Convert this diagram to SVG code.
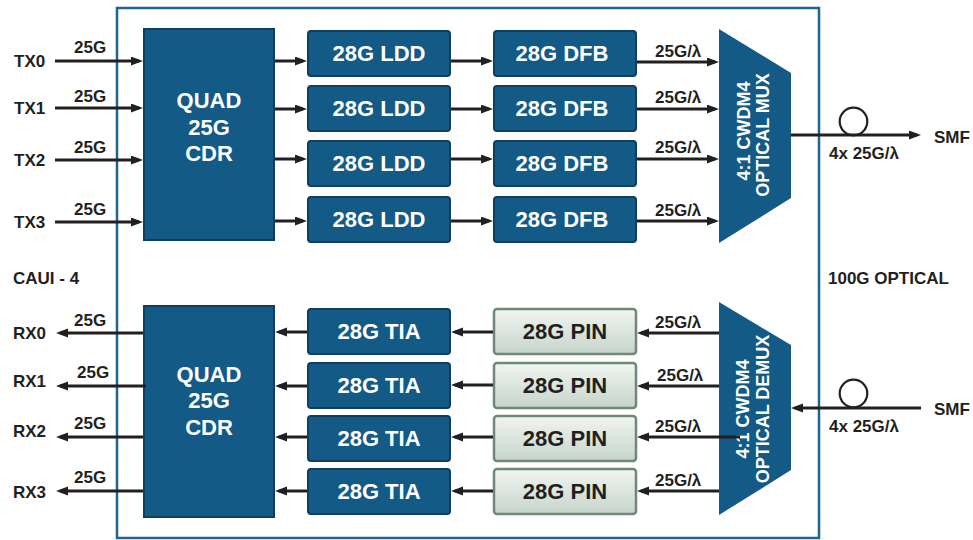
<svg xmlns="http://www.w3.org/2000/svg" width="973" height="540" viewBox="0 0 973 540">
<style>
.blk{fill:#135a87;stroke:#0d3f60;stroke-width:2}
.pin{fill:url(#pg);stroke:#6f8979;stroke-width:2.5}
.bt{font-family:"Liberation Sans",Arial,sans-serif;font-weight:bold;font-size:22px;fill:#fff;text-anchor:middle}
.pt{font-family:"Liberation Sans",Arial,sans-serif;font-weight:bold;font-size:22px;fill:#231f20;text-anchor:middle}
.mt{font-family:"Liberation Sans",Arial,sans-serif;font-weight:bold;font-size:18px;fill:#fff;text-anchor:middle}
.lb{font-family:"Liberation Sans",Arial,sans-serif;font-weight:bold;font-size:17px;fill:#231f20}
.ln{stroke:#231f20;stroke-width:3;fill:none;marker-end:url(#ah)}
.fc{stroke:#231f20;stroke-width:2.2;fill:none}
</style>
<defs>
<linearGradient id="pg" x1="0" y1="0" x2="0" y2="1">
<stop offset="0" stop-color="#f1f5f1"/>
<stop offset="1" stop-color="#c6d4cb"/>
</linearGradient>
<marker id="ah" markerUnits="userSpaceOnUse" markerWidth="12" markerHeight="10" refX="8" refY="4.5" orient="auto">
<path d="M0,0 L12,4.5 L0,9 z" fill="#231f20"/>
</marker>
</defs>
<rect id="frame" x="117" y="8" width="702" height="530" fill="#fff" stroke="#1f6390" stroke-width="2.5"/>

<g id="cdr-tx"><rect class="blk" x="144" y="29" width="130" height="211"/>
<text class="bt" x="209" y="108">QUAD</text><text class="bt" x="209" y="135">25G</text><text class="bt" x="209" y="161">CDR</text></g>
<g id="cdr-rx"><rect class="blk" x="144" y="306" width="130" height="211"/>
<text class="bt" x="209" y="382">QUAD</text><text class="bt" x="209" y="408">25G</text><text class="bt" x="209" y="435">CDR</text></g>

<g id="ldd0"><rect class="blk" x="308" y="31" width="142" height="45" rx="3"/><text class="bt" x="379" y="61">28G LDD</text></g>
<g id="ldd1"><rect class="blk" x="308" y="86" width="142" height="45" rx="3"/><text class="bt" x="379" y="116">28G LDD</text></g>
<g id="ldd2"><rect class="blk" x="308" y="141" width="142" height="45" rx="3"/><text class="bt" x="379" y="171">28G LDD</text></g>
<g id="ldd3"><rect class="blk" x="308" y="197" width="142" height="45" rx="3"/><text class="bt" x="379" y="227">28G LDD</text></g>

<g id="dfb0"><rect class="blk" x="494" y="31" width="142" height="45" rx="3"/><text class="bt" x="562" y="61">28G DFB</text></g>
<g id="dfb1"><rect class="blk" x="494" y="86" width="142" height="45" rx="3"/><text class="bt" x="562" y="116">28G DFB</text></g>
<g id="dfb2"><rect class="blk" x="494" y="141" width="142" height="45" rx="3"/><text class="bt" x="562" y="171">28G DFB</text></g>
<g id="dfb3"><rect class="blk" x="494" y="197" width="142" height="45" rx="3"/><text class="bt" x="562" y="227">28G DFB</text></g>

<g id="tia0"><rect class="blk" x="308" y="309" width="142" height="45" rx="3"/><text class="bt" x="379" y="339">28G TIA</text></g>
<g id="tia1"><rect class="blk" x="308" y="363" width="142" height="45" rx="3"/><text class="bt" x="379" y="393">28G TIA</text></g>
<g id="tia2"><rect class="blk" x="308" y="416" width="142" height="45" rx="3"/><text class="bt" x="379" y="446">28G TIA</text></g>
<g id="tia3"><rect class="blk" x="308" y="469" width="142" height="45" rx="3"/><text class="bt" x="379" y="499">28G TIA</text></g>

<g id="pin0"><rect class="pin" x="494" y="309" width="142" height="45" rx="3"/><text class="pt" x="565" y="339">28G PIN</text></g>
<g id="pin1"><rect class="pin" x="494" y="363" width="142" height="45" rx="3"/><text class="pt" x="565" y="393">28G PIN</text></g>
<g id="pin2"><rect class="pin" x="494" y="416" width="142" height="45" rx="3"/><text class="pt" x="565" y="446">28G PIN</text></g>
<g id="pin3"><rect class="pin" x="494" y="469" width="142" height="45" rx="3"/><text class="pt" x="565" y="499">28G PIN</text></g>

<g id="mux"><path d="M719,29 L791,73 L791,198 L719,243 Z" fill="#135a87"/>
<text class="mt" transform="translate(750,131) rotate(-90)">4:1 CWDM4</text>
<text class="mt" transform="translate(769,135) rotate(-90)">OPTICAL MUX</text></g>
<g id="demux"><path d="M719,302 L791,345 L791,470 L719,515 Z" fill="#135a87"/>
<text class="mt" transform="translate(749,409) rotate(-90)">4:1 CWDM4</text>
<text class="mt" transform="translate(769,409) rotate(-90)">OPTICAL DEMUX</text></g>

<g id="connectors">
<line class="ln" x1="55" y1="61" x2="139" y2="61"/>
<line class="ln" x1="55" y1="108" x2="139" y2="108"/>
<line class="ln" x1="55" y1="160" x2="139" y2="160"/>
<line class="ln" x1="55" y1="222" x2="139" y2="222"/>
<line class="ln" x1="275" y1="61" x2="303" y2="61"/>
<line class="ln" x1="275" y1="109" x2="303" y2="109"/>
<line class="ln" x1="275" y1="159" x2="303" y2="159"/>
<line class="ln" x1="275" y1="221" x2="303" y2="221"/>
<line class="ln" x1="451" y1="61" x2="489" y2="61"/>
<line class="ln" x1="451" y1="109" x2="489" y2="109"/>
<line class="ln" x1="451" y1="159" x2="489" y2="159"/>
<line class="ln" x1="451" y1="221" x2="489" y2="221"/>
<line class="ln" x1="637" y1="62" x2="715" y2="62"/>
<line class="ln" x1="637" y1="109" x2="715" y2="109"/>
<line class="ln" x1="637" y1="159" x2="715" y2="159"/>
<line class="ln" x1="637" y1="221" x2="715" y2="221"/>
<line class="ln" x1="791" y1="135" x2="917" y2="135"/>
<circle class="fc" cx="853.5" cy="121.5" r="13.8"/>

<line class="ln" x1="921" y1="408" x2="795" y2="408"/>
<circle class="fc" cx="853.5" cy="393.5" r="13.8"/>
<line class="ln" x1="719" y1="333" x2="641" y2="333"/>
<line class="ln" x1="719" y1="386" x2="641" y2="386"/>
<line class="ln" x1="740" y1="437" x2="641" y2="437"/>
<line class="ln" x1="719" y1="491" x2="641" y2="491"/>
<line class="ln" x1="493" y1="332" x2="455" y2="332"/>
<line class="ln" x1="493" y1="385" x2="455" y2="385"/>
<line class="ln" x1="493" y1="437" x2="455" y2="437"/>
<line class="ln" x1="493" y1="491" x2="455" y2="491"/>
<line class="ln" x1="307" y1="332" x2="279" y2="332"/>
<line class="ln" x1="307" y1="386" x2="279" y2="386"/>
<line class="ln" x1="307" y1="437" x2="279" y2="437"/>
<line class="ln" x1="307" y1="491" x2="279" y2="491"/>
<line class="ln" x1="143" y1="333" x2="60" y2="333"/>
<line class="ln" x1="146" y1="386" x2="60" y2="386"/>
<line class="ln" x1="143" y1="437" x2="60" y2="437"/>
<line class="ln" x1="143" y1="491" x2="60" y2="491"/>
</g>

<g id="labels">
<text class="lb" x="14" y="67">TX0</text>
<text class="lb" x="14" y="114">TX1</text>
<text class="lb" x="14" y="166">TX2</text>
<text class="lb" x="14" y="228">TX3</text>
<text class="lb" x="74" y="53">25G</text>
<text class="lb" x="74" y="102">25G</text>
<text class="lb" x="74" y="153">25G</text>
<text class="lb" x="74" y="215">25G</text>
<text class="lb" x="13" y="339">RX0</text>
<text class="lb" x="13" y="387">RX1</text>
<text class="lb" x="13" y="437">RX2</text>
<text class="lb" x="13" y="498">RX3</text>
<text class="lb" x="74" y="326">25G</text>
<text class="lb" x="77" y="378">25G</text>
<text class="lb" x="74" y="429">25G</text>
<text class="lb" x="74" y="483">25G</text>
<text class="lb" x="13" y="284">CAUI - 4</text>
<text class="lb" x="828" y="284">100G OPTICAL</text>
<text class="lb" x="655" y="57">25G/λ</text>
<text class="lb" x="655" y="103">25G/λ</text>
<text class="lb" x="655" y="153">25G/λ</text>
<text class="lb" x="655" y="216">25G/λ</text>
<text class="lb" x="655" y="328">25G/λ</text>
<text class="lb" x="657" y="381">25G/λ</text>
<text class="lb" x="655" y="432">25G/λ</text>
<text class="lb" x="655" y="486">25G/λ</text>
<text class="lb" x="934" y="143">SMF</text>
<text class="lb" x="934" y="415">SMF</text>
<text class="lb" x="829" y="159">4x 25G/λ</text>
<text class="lb" x="829" y="432">4x 25G/λ</text>
</g>
</svg>
